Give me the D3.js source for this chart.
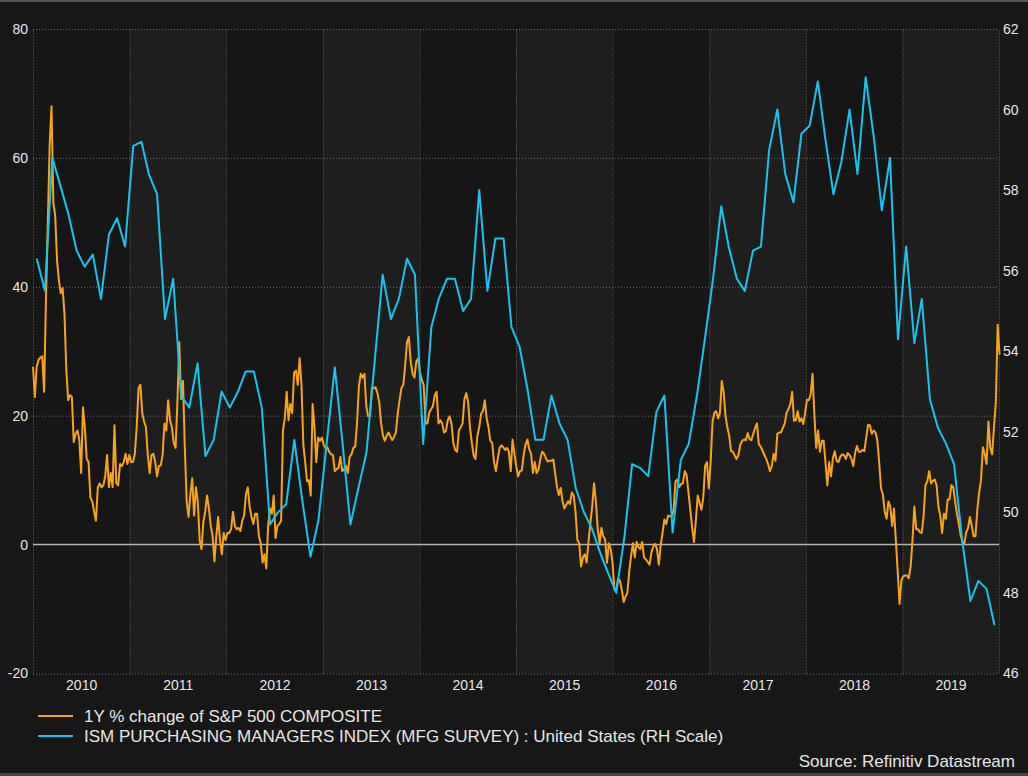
<!DOCTYPE html>
<html>
<head>
<meta charset="utf-8">
<script src="https://cdn.jsdelivr.net/npm/d3@7"></script>
<style>
  html, body { margin: 0; padding: 0; background: #171717; }
  svg { display: block; font-family: "Liberation Sans", Arial, sans-serif; }
</style>
</head>
<body>
<svg id="chart" width="1028" height="776"></svg>
<script>
// ---- data ----
const years = [2010, 2011, 2012, 2013, 2014, 2015, 2016, 2017, 2018, 2019];
const leftTicks = [-20, 0, 20, 40, 60, 80];
const rightTicks = [46, 48, 50, 52, 54, 56, 58, 60, 62];

// ISM manufacturing PMI, monthly from Jan 2010
const ismMonthly = [
  56.3, 55.5, 58.8, 58.1, 57.4, 56.5, 56.1, 56.4, 55.3, 56.9, 57.3, 56.6,
  59.1, 59.2, 58.4, 57.9, 54.8, 55.8, 52.9, 52.6, 53.7, 51.4, 51.8, 53.0,
  52.6, 53.0, 53.5, 53.5, 52.6, 49.7, 50.0, 50.2, 51.8, 50.3, 48.9, 49.8,
  51.7, 53.6, 51.8, 49.7, 50.6, 51.5, 53.7, 55.9, 54.8, 55.3, 56.3, 55.9,
  51.7, 54.6, 55.3, 55.8, 55.8, 55.0, 55.3, 58.0, 55.5, 56.8, 56.8, 54.6,
  54.1, 53.0, 51.8, 51.8, 52.9, 52.2, 51.8, 50.6, 50.0, 49.6, 49.0, 48.5,
  48.0, 49.4, 51.2, 51.1, 50.9, 52.5, 52.9, 49.5, 51.3, 51.7, 52.9, 54.3,
  55.8, 57.6, 56.6, 55.8, 55.5, 56.5, 56.6, 59.0, 60.0, 58.4, 57.7, 59.4,
  59.6, 60.7, 59.3, 57.9, 58.7, 60.0, 58.4, 60.8, 59.3, 57.5, 58.8, 54.3,
  56.6, 54.2, 55.3, 52.8, 52.1, 51.7, 51.2, 49.3, 47.8, 48.3, 48.1, 47.2
];

// 1Y % change of S&P 500, weekly from 1 Jan 2010
const spxWeekly = [
  27.6, 22.9, 27.6, 28.7, 29.0, 29.2, 23.7, 38, 50, 62, 68, 53, 51, 44, 41, 39, 39.8, 35.8, 27, 22.4, 23.2, 22.9, 15.9, 17.2, 17.7, 16.3,
  11.1, 21.3, 18.2, 13.3, 12.8, 7.3, 6.7, 5.1, 3.7, 8.9, 9.5, 8.9, 9.2, 10.6, 13.9, 8.9, 11.1, 8.9, 18.5, 9.5, 9.2, 12.5, 12.2, 12.8, 14.1, 12.5,
  13.9, 12.8, 12.8, 14.1, 18.2, 24.3, 24.8, 20.4, 19.1, 18.2, 13.9, 11.1, 13.9, 14.1, 12.8, 10.6, 12.2, 12.3, 13.9, 18.8, 17.7, 22.4, 19.3, 18.2, 15.8, 15.0,
  22.1, 31.4, 22.6, 25.4, 15.0, 6.7, 4.3, 7.8, 10.3, 4.5, 8.9, 6.7, 0.7, -0.7, 3.5, 5.1, 7.6, 5.6, 2.9, 1.3, -2.6, 1.3, 4.3, 0.7, -1.5, 1.8,
  0.7, 1.8, 1.8, 2.4, 5.1, 2.9, 2.4, 2.6, 2.1, 3.7, 4.5, 7.8, 8.9, 5.9, 4.3, 3.2, 4.8, 4.8, 1.3, 0.2, -2.8, -1.5, -3.7, 2.9, 5.6, 4.8,
  7.6, 1.0, 2.9, 3.2, 3.7, 17.7, 19.6, 23.7, 19.3, 21.8, 20.4, 26.7, 27.0, 24.8, 28.9, 24.8, 15.5, 12.8, 9.8, 10.0, 7.6, 21.8, 18.2, 12.8, 16.6, 16.1,
  16.6, 15.5, 15.0, 15.1, 14.4, 14.0, 13.9, 11.4, 11.7, 11.9, 13.6, 11.4, 11.7, 12.2, 11.1, 13.6, 14.0, 15.0, 15.2, 18.8, 24.5, 26.5, 25.9, 26.5, 21.5, 19.9,
  19.9, 24.3, 24.3, 24.4, 23.5, 22.1, 18.8, 16.9, 16.1, 16.9, 17.4, 16.8, 16.2, 16.7, 17.4, 20.4, 22.5, 24.3, 24.8, 27.8, 31.4, 32.2, 28.4, 26.5, 25.9, 28.4,
  28.9, 26.7, 25.5, 24.8, 18.8, 18.8, 20.5, 21.0, 21.5, 23.2, 23.7, 18.8, 19.3, 18.8, 17.4, 17.6, 19.3, 19.9, 18.8, 15.8, 14.7, 14.4, 17.7, 18.2, 18.8, 22.6,
  23.5, 22.1, 18.2, 15.8, 13.8, 13.3, 16.9, 18.2, 20.3, 20.7, 22.4, 19.6, 18.2, 16.1, 15.8, 12.8, 11.4, 13.3, 15.0, 15.4, 15.1, 14.7, 15.0, 14.4, 11.4, 16.3,
  14.1, 12.1, 10.6, 11.4, 11.5, 13.9, 15.5, 16.3, 14.8, 14.1, 11.1, 12.8, 11.1, 11.6, 13.3, 14.4, 14.1, 13.4, 12.9, 13.0, 13.0, 13.2, 11.1, 8.9, 7.7, 8.8,
  6.7, 5.6, 6.2, 6.7, 6.3, 8.1, 7.6, 5.1, 0.7, 0.2, -3.4, -2.0, -1.5, -2.8, 0.4, 3.2, 5.9, 9.5, 6.7, 2.4, 0.2, 2.6, 1.3, 0.8, -2.8, 0.2,
  -0.7, -2.8, -7.0, -7.0, -5.3, -5.6, -7.0, -8.9, -8.1, -7.5, -4.2, -1.8, 0.2, -2.0, 0.4, -0.4, -0.7, 0.4, -2.0, -2.3, -2.7, -3.1, -1.2, -0.3, 0.1, -0.7,
  -3.1, -0.1, 1.8, 3.9, 3.2, 4.5, 4.4, 4.4, 5.4, 9.8, 10.1, 8.9, 9.4, 9.5, 11.4, 10.8, 8.1, 5.4, 2.6, 0.4, 3.7, 7.6, 6.5, 5.4, 7.3, 12.2,
  12.8, 8.7, 12.8, 19.1, 20.5, 20.7, 19.6, 20.4, 25.4, 23.7, 20.0, 18.2, 16.9, 14.5, 14.4, 13.8, 13.3, 13.9, 15.5, 16.1, 16.3, 16.2, 17.3, 16.4, 16.2, 17.2,
  18.1, 18.8, 15.6, 15.2, 14.6, 13.9, 13.3, 12.5, 11.4, 12.2, 14.1, 13.0, 17.2, 17.4, 17.4, 18.1, 18.8, 20.5, 21.0, 21.8, 23.7, 19.2, 19.3, 20.7, 19.1, 19.6,
  18.7, 20.4, 22.5, 22.4, 23.3, 26.5, 20.2, 15.0, 17.7, 14.4, 16.1, 16.1, 12.8, 9.2, 12.8, 10.6, 13.4, 14.5, 13.0, 12.8, 13.6, 14.0, 13.9, 13.3, 14.2, 13.9,
  13.3, 12.2, 14.2, 15.3, 14.4, 14.4, 14.7, 14.5, 16.6, 18.6, 18.5, 17.2, 17.7, 17.4, 16.2, 12.8, 8.7, 7.8, 5.1, 4.0, 6.7, 5.9, 2.9, 5.6, 0.7, -4.2,
  -9.2, -5.6, -4.9, -4.8, -4.8, -5.2, -3.4, 0.7, 5.9, 2.4, 2.4, 1.9, 1.8, 4.5, 9.2, 9.8, 11.4, 9.5, 9.9, 10.1, 9.2, 5.9, 4.5, 1.8, 4.8, 4.0,
  7.0, 7.0, 9.2, 8.9, 6.7, 4.8, 3.2, 1.5, 0.4, 0.2, 1.9, 2.6, 4.3, 2.9, 1.3, 1.3, 5.4, 8.1, 10.0, 15.1, 14.1, 12.5, 19.1, 15.0, 14.0, 18.2, 22.1, 34.1, 29.5
];

const seriesNames = [
  "1Y % change of S&P 500 COMPOSITE",
  "ISM PURCHASING MANAGERS INDEX (MFG SURVEY) : United States (RH Scale)"
];
const sourceText = "Source: Refinitiv Datastream";

// ---- layout ----
const W = 1028, H = 776;
const plot = { left: 33, right: 999, top: 29, bottom: 673.5 };
const orange = "#f8a31b", blue = "#1ac3ee";

const svg = d3.select("#chart");
svg.append("rect").attr("width", W).attr("height", H).attr("fill", "#171717");
svg.append("rect").attr("x", 0).attr("y", 0).attr("width", W).attr("height", 2).attr("fill", "#555");
svg.append("rect").attr("x", 0).attr("y", H - 3).attr("width", W).attr("height", 3).attr("fill", "#444");

const x = d3.scaleTime()
  .domain([new Date(2010, 0, 1), new Date(2020, 0, 1)])
  .range([plot.left, plot.right]);
const yL = d3.scaleLinear().domain([-20, 80]).range([plot.bottom, plot.top]);
const yR = d3.scaleLinear().domain([46, 62]).range([plot.bottom, plot.top]);

// alternating year bands
svg.selectAll("rect.band")
  .data(years)
  .enter()
  .append("rect")
  .attr("class", "band")
  .attr("x", d => x(new Date(d, 0, 1)))
  .attr("width", d => x(new Date(d + 1, 0, 1)) - x(new Date(d, 0, 1)))
  .attr("y", plot.top)
  .attr("height", plot.bottom - plot.top)
  .attr("fill", (d, i) => i % 2 ? "#1e1e1e" : "#161616");

// grid
const yearStarts = years.map(d => new Date(d, 0, 1)).concat([new Date(2020, 0, 1)]);
const vGrid = svg.append("g")
  .attr("transform", `translate(0,${plot.bottom})`)
  .call(d3.axisBottom(x).tickValues(yearStarts).tickSize(-(plot.bottom - plot.top)).tickFormat(""));
const hGrid = svg.append("g")
  .attr("transform", `translate(${plot.left},0)`)
  .call(d3.axisLeft(yL).tickValues(leftTicks.filter(v => v !== 0)).tickSize(-(plot.right - plot.left)).tickFormat(""));
[vGrid, hGrid].forEach(g => {
  g.select(".domain").remove();
  g.selectAll("line").attr("stroke", "#6e6e6e").attr("stroke-dasharray", "1,2");
});

// zero line
svg.append("line")
  .attr("x1", plot.left).attr("x2", plot.right)
  .attr("y1", yL(0)).attr("y2", yL(0))
  .attr("stroke", "#b4b4b4").attr("stroke-width", 1.5);

// series
const spxData = spxWeekly.map((v, i) => ({ date: new Date(2010, 0, 1 + 7 * i), v }));
const ismData = ismMonthly.map((v, i) => ({ date: new Date(2010, i, 15), v }));

svg.append("path")
  .datum(spxData)
  .attr("fill", "none")
  .attr("stroke", orange)
  .attr("stroke-width", 2)
  .attr("stroke-linejoin", "round")
  .attr("d", d3.line().x(d => x(d.date)).y(d => yL(d.v)));

svg.append("path")
  .datum(ismData)
  .attr("fill", "none")
  .attr("stroke", blue)
  .attr("stroke-width", 2)
  .attr("stroke-linejoin", "round")
  .attr("d", d3.line().x(d => x(d.date)).y(d => yR(d.v)));

// axes labels
function styleAxis(g) {
  g.select(".domain").remove();
  g.selectAll("line").remove();
  g.attr("font-family", null).attr("font-size", null);
  g.selectAll("text").attr("fill", "#e6e6e6").style("font-size", "14px");
}
const plain = d => String(d);
svg.append("g")
  .attr("transform", `translate(${plot.left},0)`)
  .call(d3.axisLeft(yL).tickValues(leftTicks).tickFormat(plain).tickSize(0).tickPadding(5))
  .call(styleAxis);
svg.append("g")
  .attr("transform", `translate(${plot.right},0)`)
  .call(d3.axisRight(yR).tickValues(rightTicks).tickFormat(plain).tickSize(0).tickPadding(4))
  .call(styleAxis);
svg.append("g")
  .attr("transform", `translate(0,${plot.bottom})`)
  .call(d3.axisBottom(x).tickValues(years.map(d => new Date(d, 6, 2))).tickFormat(d3.timeFormat("%Y")).tickSize(0).tickPadding(7))
  .call(styleAxis);

// legend
const legend = svg.append("g");
const legendColors = [orange, blue];
seriesNames.forEach((name, i) => {
  const cy = 716 + i * 20;
  legend.append("line")
    .attr("x1", 38).attr("x2", 73).attr("y1", cy).attr("y2", cy)
    .attr("stroke", legendColors[i]).attr("stroke-width", 2);
  legend.append("text")
    .attr("x", 84).attr("y", cy).attr("dy", "0.35em")
    .attr("fill", "#e6e6e6").style("font-size", "17px")
    .text(name);
});

svg.append("text")
  .attr("x", 1015).attr("y", 761).attr("dy", "0.35em")
  .attr("text-anchor", "end")
  .attr("fill", "#e6e6e6").style("font-size", "17px")
  .text(sourceText);
</script>
</body>
</html>
